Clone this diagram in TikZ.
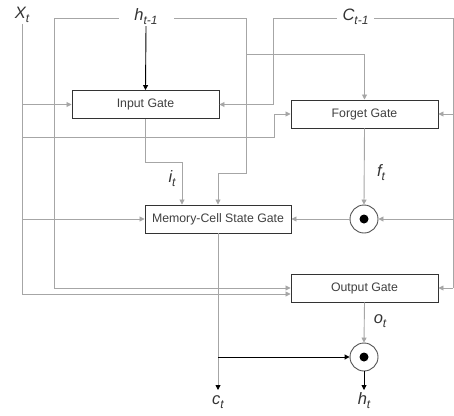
\documentclass[tikz,border=0pt]{standalone}
\usepackage{fontspec}
\setmainfont{Liberation Sans}
\usetikzlibrary{arrows.meta}
\definecolor{ln}{HTML}{A6A6A6}
\definecolor{bd}{HTML}{333333}
\definecolor{tx}{HTML}{404040}
\newcommand{\lsub}[1]{{\fontsize{12}{13}\selectfont\raisebox{-4pt}{#1}}}
\begin{document}
\begin{tikzpicture}[x=1pt,y=-1pt,
  gate/.style={draw=bd,line width=0.95pt,minimum width=147pt,minimum height=28pt,inner sep=0pt,text=tx,font=\fontsize{12.3}{14}\selectfont},
  lab/.style={text=bd,font=\fontsize{16.5}{18}\selectfont\itshape,inner sep=1pt},
  gl/.style={draw=ln,line width=0.9pt},
  ga/.style={gl,-{Triangle[length=5pt,width=5pt]}},
  ba/.style={draw=black,line width=0.9pt,-{Triangle[length=5pt,width=5pt]}},
  odot/.style={circle,draw=bd!85,line width=0.9pt,minimum size=28pt,inner sep=0pt,fill=white},
]
\useasboundingbox[fill=white] (0,0) rectangle (454,415);

% gates
\node[gate] (ig) at (145.5,104.5) {Input Gate};
\node[gate] (fg) at (364.5,114) {Forget Gate};
\node[gate,minimum width=146pt] (mg) at (218,219) {Memory-Cell State Gate};
\node[gate] (og) at (364.5,288) {Output Gate};
\node[odot] (m1) at (364,219) {};
\node[odot] (m2) at (364,357) {};
\fill[black] (m1) circle[radius=4.5pt];
\fill[black] (m2) circle[radius=4.5pt];

% input labels
\node[lab] (xt) at (22,15) {X\lsub{t}};

% coordinates
\coordinate (h1) at (54,18);
\coordinate (h2) at (246,18);
\coordinate (h3) at (246,173);
\coordinate (h5) at (246,54);
\coordinate (c1) at (273,18);
\coordinate (c2) at (453,18);
\coordinate (c3) at (453,288);
\coordinate (xf) at (274,137);
\coordinate (i1) at (182,162);
\coordinate (cb) at (218,357);
\coordinate (cte) at (218,390);
\coordinate (hte) at (364,390);

% X_t
\draw[ga] (xt.south) |- ([yshift=-6pt]og.west);
\draw[ga] (xt.south |- ig.west) -- (ig.west);
\draw[ga] (xt.south |- xf) -- (xf) |- (fg.west);
\draw[ga] (xt.south |- mg.west) -- (mg.west);

% h_{t-1}
\draw[ga] (h1) |- (og.west);
\draw[ga] (h1) -- (h2) -- (h3) -| (mg.north);
\draw[ga] (h5) -| (fg.north);

% C_{t-1}
\draw[ga] (c2) -- (c1) |- (ig.east);
\draw[gl] (c2) -- (c3);
\draw[ga] (c2 |- fg.east) -- (fg.east);
\draw[ga] (c2 |- m1.east) -- (m1.east);
\draw[ga] (c3) -- (og.east);

% labels on top line
\node[lab,fill=white,minimum width=55pt,minimum height=16pt] (htm) at (146,17) {h\lsub{t-1}};
\node[lab,fill=white,minimum width=37pt,minimum height=16pt] (ctm) at (355.5,17) {C\lsub{t-1}};
\draw[ba] (htm.south) -- (ig.north);

% internal flows
\draw[ga] (ig.south) |- (i1) -- (i1 |- mg.north);
\node[lab] (it) at (172,179) {i\lsub{t}};
\draw[ga] (fg.south) -- (m1.north);
\node[lab] (ft) at (381,173) {f\lsub{t}};
\draw[ga] (m1.west) -- (mg.east);
\draw[gl,-{Triangle[length=5pt,width=5pt,color=black]}] (mg.south) -- (cte);
\draw[ba] (cb) -- (m2.west);
\draw[ga] (og.south) -- (m2.north);
\node[lab] (ot) at (380,321) {o\lsub{t}};
\draw[ba] (m2.south) -- (hte);

% outputs
\node[lab] (ct) at (218,402) {c\lsub{t}};
\node[lab] (ht) at (364,401) {h\lsub{t}};
\end{tikzpicture}
\end{document}
